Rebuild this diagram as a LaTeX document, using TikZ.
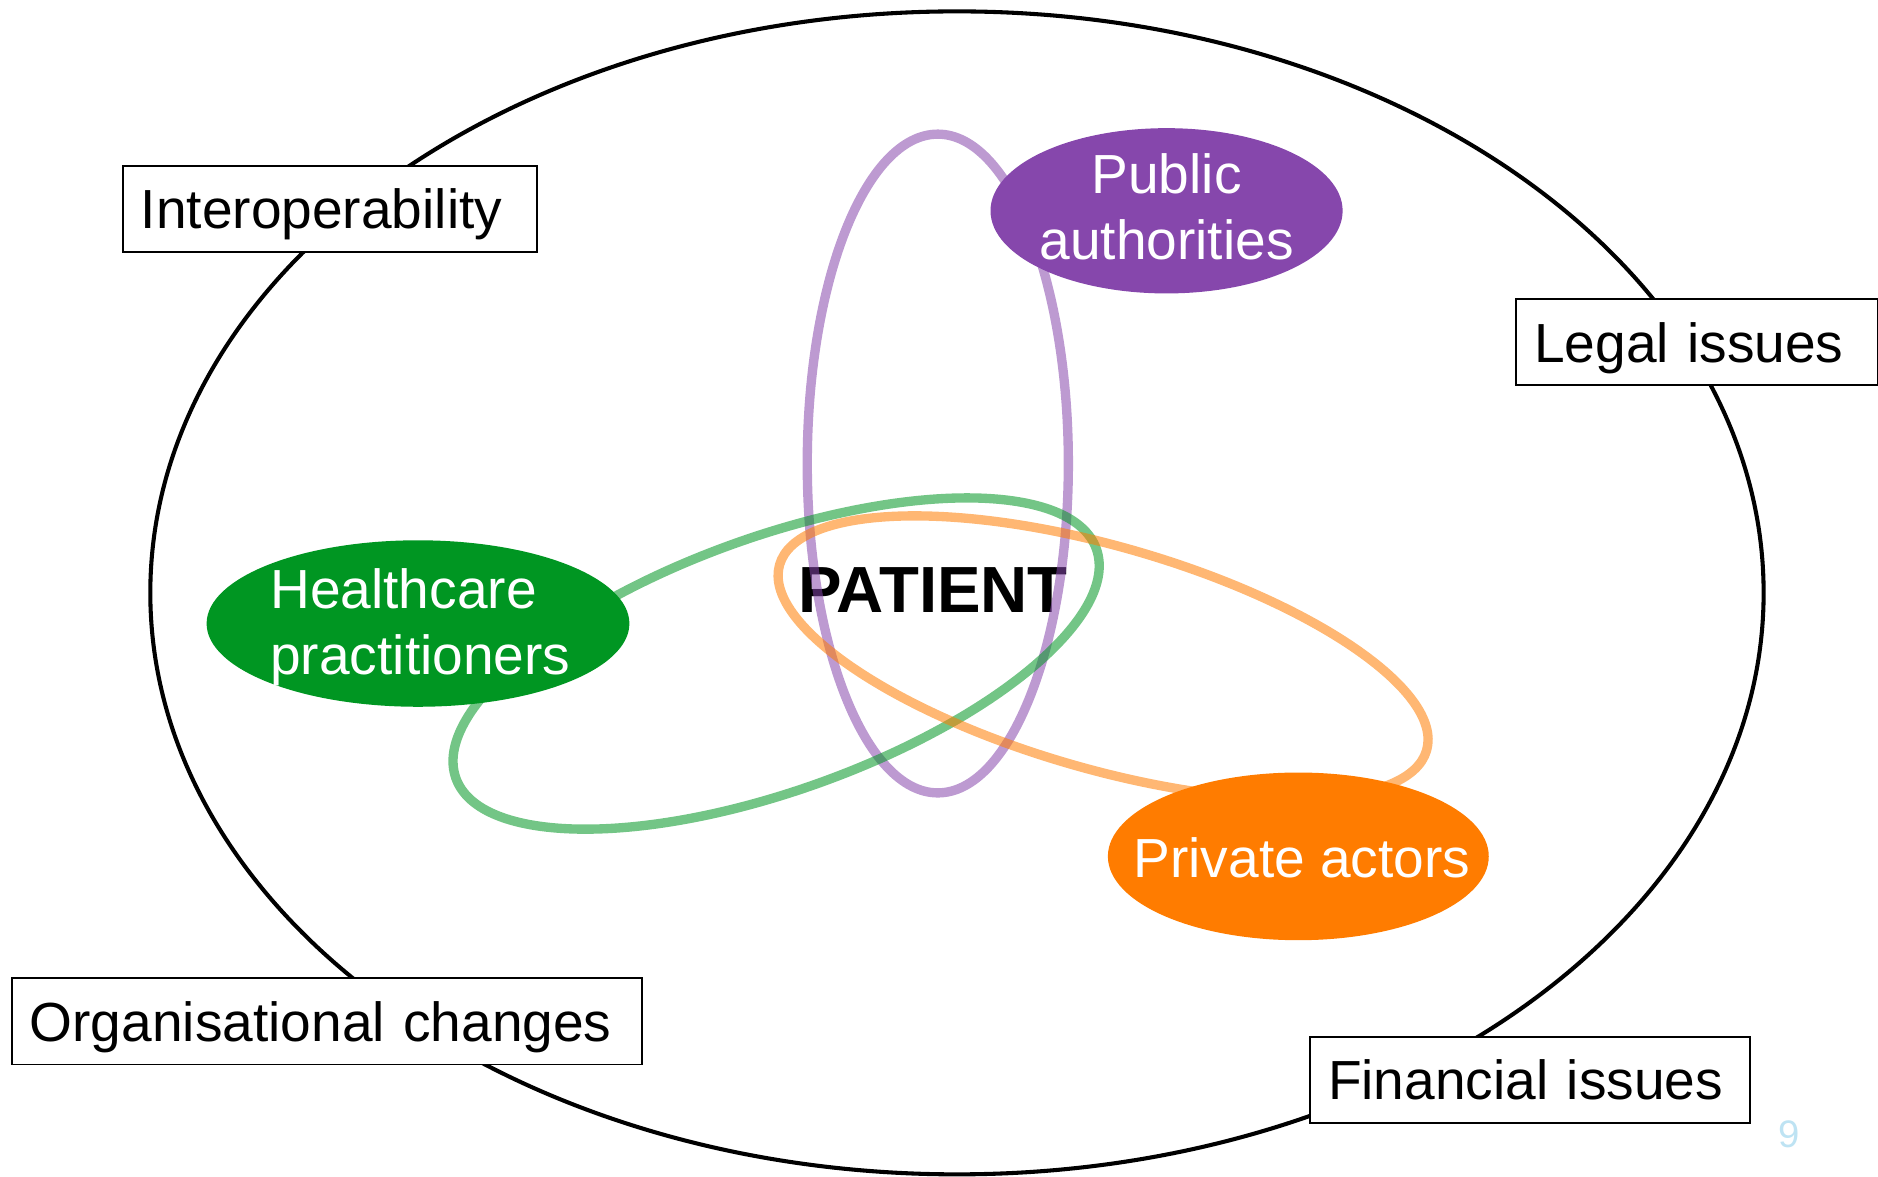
\documentclass[tikz,border=0pt]{standalone}
\usepackage{fontspec}
\setmainfont{Liberation Sans}
\usetikzlibrary{shapes.geometric}
\definecolor{purp}{RGB}{134,71,172}
\definecolor{grn}{RGB}{0,150,34}
\definecolor{orng}{RGB}{255,124,0}
\definecolor{pagenum}{RGB}{190,227,243}
\begin{document}
\begin{tikzpicture}[x=1pt,y=-1pt,
  issuebox/.style={draw=black, line width=1.6pt, fill=white, rectangle, anchor=north west,
    inner xsep=15pt, inner ysep=0pt, minimum height=72pt, text height=33pt, text depth=0pt,
    align=left, font=\fontsize{46}{55}\selectfont},
  actor/.style={ellipse, inner sep=0pt, draw=none},
  acttext/.style={text=white, inner sep=0pt, font=\fontsize{46}{55}\selectfont},
  loopline/.style={line width=7.8pt, draw opacity=0.55}]
\useasboundingbox (0,0) rectangle (1568,982);
% outer ellipse
\draw[line width=3.4pt] (799,495) ellipse [x radius=673.5, y radius=485.5];
% issue boxes
\node[issuebox, text width=316pt] (interop) at (101.8,137.7) {Interoperability};
\node[issuebox, text width=272pt] (legal) at (1265.2,249) {Legal issues};
\node[issuebox, text width=496pt] (org) at (9,816) {Organisational changes};
\node[issuebox, text width=337pt] (fin) at (1093,865) {Financial issues};
% patient
\node[font=\bfseries\fontsize{54.5}{60}\selectfont, anchor=base, inner sep=0pt] (patient) at (779,511.7) {PATIENT};
% loops
\draw[loopline, draw=purp] (783,387) ellipse [x radius=109, y radius=275];
\draw[loopline, draw=grn, rotate around={19.7:(648,554)}] (648,554) ellipse [x radius=284, y radius=106];
\draw[loopline, draw=orng, rotate around={-16:(921,549)}] (921,549) ellipse [x radius=281, y radius=93];
% actors
\node[actor, fill=purp, minimum width=294pt, minimum height=138pt] (pub) at (974,176) {};
\node[actor, fill=grn, minimum width=353pt, minimum height=139pt] (hc) at (349,520.6) {};
\node[actor, fill=orng, minimum width=318pt, minimum height=140pt] (priv) at (1084,715) {};
\node[acttext, align=center, anchor=center] (pubtxt) at (974,172.4) {Public\\authorities};
\node[acttext, align=left, anchor=west] (hctxt) at (225.5,523.5) {Healthcare\\practitioners};
\node[acttext, anchor=base] (privtxt) at (1087,733) {Private actors};
% page number
\node[text=pagenum, font=\fontsize{32}{36}\selectfont, anchor=base, inner sep=0pt] (pg) at (1494,958) {9};
\end{tikzpicture}
\end{document}
